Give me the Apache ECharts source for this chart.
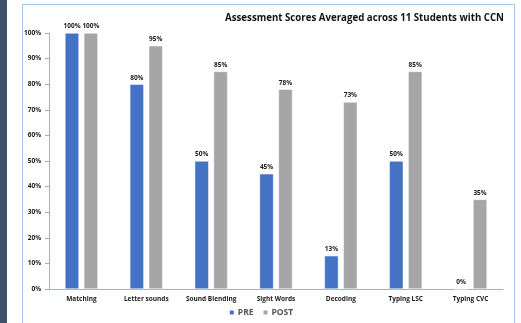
<!DOCTYPE html>
<html>
<head>
<meta charset="utf-8">
<script src="https://cdn.jsdelivr.net/npm/echarts@6/dist/echarts.min.js"></script>
<style>
  html, body { margin: 0; padding: 0; background: #fff; }
  #chart { width: 521px; height: 323px; }
</style>
</head>
<body>
<div id="chart"></div>
<script>
// data
const categories = ["Matching", "Letter sounds", "Sound Blending", "Sight Words", "Decoding", "Typing LSC", "Typing CVC"];
const preScores = [100, 80, 50, 45, 13, 50, 0];
const postScores = [100, 95, 85, 78, 73, 85, 35];
const yTicks = [0, 10, 20, 30, 40, 50, 60, 70, 80, 90, 100];

const font = "Open Sans";
const chart = echarts.init(document.getElementById("chart"));

const labelStyle = {
  show: true,
  position: "top",
  distance: 3,
  formatter: (p) => p.value + "%",
  fontFamily: font,
  fontWeight: "bold",
  fontSize: 6.5,
  color: "#1a1a1a",
};

const option = {
  animation: false,
  backgroundColor: "#fff",
  title: {
    text: "Assessment Scores Averaged across 11 Students with CCN",
    right: 12,
    top: 8,
    textStyle: { fontFamily: font, fontWeight: "bold", fontSize: 9.7, color: "#111" },
  },
  graphic: [
    // dark strip on the left edge
    { type: "rect", left: 0, top: 0, shape: { width: 7, height: 323 }, style: { fill: "#3f5069" } },
    // chart frame
    {
      type: "rect", left: 20, top: 2,
      shape: { width: 492, height: 330 },
      style: { fill: "none", stroke: "#a9c4e8", lineWidth: 1 },
    },
  ],
  legend: {
    bottom: 1,
    left: "center",
    itemWidth: 6,
    itemHeight: 6,
    itemGap: 8,
    icon: "rect",
    textStyle: { fontFamily: font, fontSize: 8.5, fontWeight: "bold", color: "#555", padding: [0, 0, 0, -2] },
    data: ["PRE", "POST"],
  },
  grid: { left: 49, right: 18, top: 33, bottom: 34 },
  xAxis: {
    type: "category",
    data: categories,
    axisLine: { lineStyle: { color: "#8eb4e3", width: 1 } },
    axisTick: { show: false },
    axisLabel: { interval: 0, fontFamily: font, fontWeight: "bold", fontSize: 6.5, color: "#1a1a1a", margin: 7 },
  },
  yAxis: {
    type: "value",
    min: yTicks[0],
    max: yTicks[yTicks.length - 1],
    interval: 10,
    axisLine: { show: true, lineStyle: { color: "#8eb4e3", width: 1 } },
    axisTick: { show: true, length: 4, lineStyle: { color: "#8eb4e3" } },
    splitLine: { show: false },
    axisLabel: {
      formatter: (v) => v + "%",
      fontFamily: font, fontWeight: "bold", fontSize: 6.5, color: "#1a1a1a", margin: 8,
    },
  },
  series: [
    {
      name: "PRE",
      type: "bar",
      data: preScores,
      barWidth: 14,
      barGap: "35%",
      itemStyle: { color: "#4472c4", borderColor: "#fff", borderWidth: 0.5 },
      label: labelStyle,
    },
    {
      name: "POST",
      type: "bar",
      data: postScores,
      barWidth: 14,
      itemStyle: { color: "#a5a5a5", borderColor: "#fff", borderWidth: 0.5 },
      label: labelStyle,
    },
  ],
};

chart.setOption(option);
</script>
</body>
</html>
